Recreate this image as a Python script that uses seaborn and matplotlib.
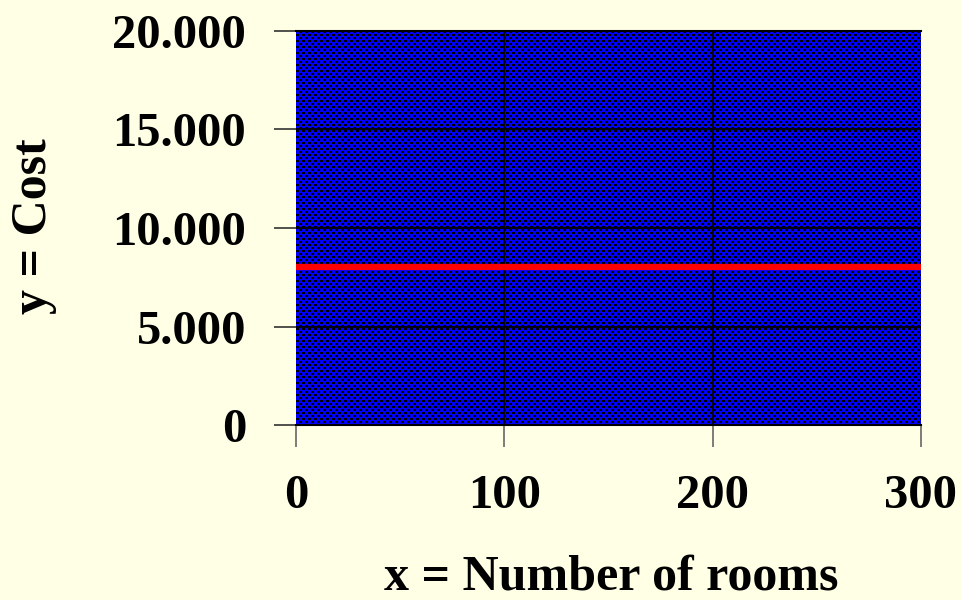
import numpy as np
import pandas as pd
import matplotlib
matplotlib.use("Agg")
import matplotlib.pyplot as plt
import seaborn as sns
from matplotlib.ticker import FuncFormatter

# Fixed cost: constant regardless of the number of rooms
rooms = [0, 300]
cost = [8000, 8000]
x_ticks = [0, 100, 200, 300]
y_ticks = [0, 5000, 10000, 15000, 20000]

df = pd.DataFrame({"rooms": rooms, "cost": cost})

sns.set_style("white")
plt.rcParams["font.family"] = ["Liberation Serif", "DejaVu Serif"]
plt.rcParams["font.weight"] = "bold"
plt.rcParams["text.color"] = "black"
plt.rcParams["xtick.color"] = "black"
plt.rcParams["ytick.color"] = "black"

bg = "#FFFFE6"
fig = plt.figure(figsize=(9.61, 6.0), dpi=100, facecolor=bg)
ax = fig.add_axes([296 / 961, 1 - 425 / 600, 625 / 961, 394 / 600])

# Checkered blue/black plot-area fill (small black squares on blue)
h, w = 394, 625
ii, jj = np.mgrid[0:h, 0:w]
checker = (((ii // 3 + jj // 3) % 2 == 1) & (ii % 3 != 2)).astype(float)
cmap = matplotlib.colors.ListedColormap(["#0000FF", "#000000"])
ax.imshow(checker, cmap=cmap, extent=[0, 1, 0, 1], transform=ax.transAxes,
          aspect="auto", interpolation="none", zorder=0)

ax.set_xlim(0, 300)
ax.set_ylim(0, 20000)
ax.set_xticks(x_ticks)
ax.set_yticks(y_ticks)

for y in y_ticks[1:]:
    ax.axhline(y, color="#000010", lw=1.4, zorder=1)
for x in x_ticks[1:-1]:
    ax.axvline(x, color="#000010", lw=1.4, zorder=1)

sns.lineplot(data=df, x="rooms", y="cost", color="#FF0000", lw=4.5, ax=ax,
             zorder=3)

ax.yaxis.set_major_formatter(FuncFormatter(lambda v, p: f"{int(v):,}".replace(",", ".")))
ax.tick_params(axis="y", direction="out", length=16, width=1.2, color="#333333",
               pad=20, labelsize=35, left=True, labelcolor="black")
ax.tick_params(axis="x", direction="out", length=16, width=1.2, color="#666666",
               pad=19, labelsize=35, bottom=True, labelcolor="black")
for lab in ax.get_xticklabels() + ax.get_yticklabels():
    lab.set_fontweight("bold")

for side in ["left", "right"]:
    ax.spines[side].set_visible(False)
ax.spines["top"].set_color("black")
ax.spines["bottom"].set_color("black")
ax.spines["top"].set_linewidth(1.5)
ax.spines["bottom"].set_linewidth(1.5)

ax.set_xlabel("")
ax.set_ylabel("")
fig.text(611 / 961, 1 - 577 / 600, "x = Number of rooms", ha="center", va="center",
         fontsize=36, fontweight="bold", color="black")
fig.text(34 / 961, 1 - 226 / 600, "y = Cost", ha="center", va="center",
         fontsize=36, fontweight="bold", rotation=90, color="black")

fig.savefig("out.png", dpi=100, facecolor=bg)
